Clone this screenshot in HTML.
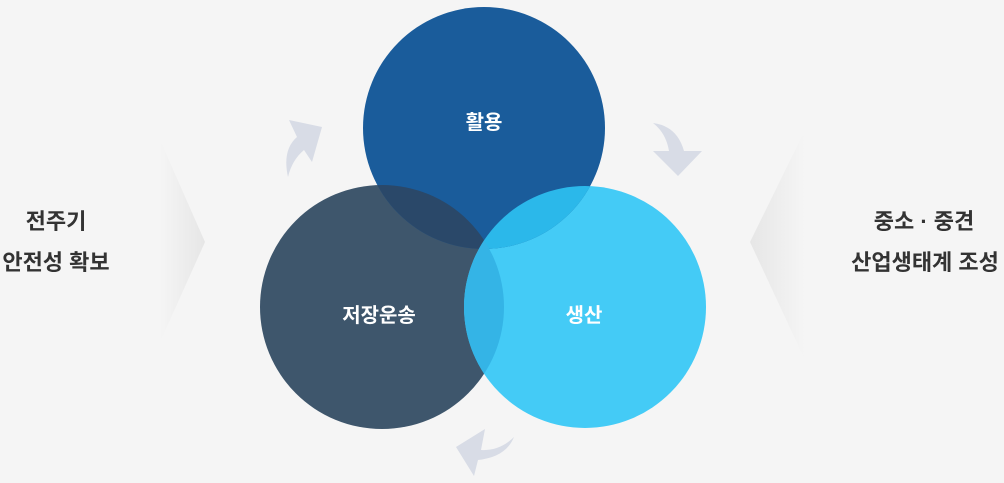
<!DOCTYPE html>
<html><head><meta charset="utf-8"><style>
html,body{margin:0;padding:0;background:#f5f5f5;}
body{width:1004px;height:483px;overflow:hidden;position:relative;font-family:"Liberation Sans","Noto Sans CJK KR",sans-serif;}
svg{position:absolute;left:0;top:0;}
</style></head><body>
<svg width="1004" height="483" viewBox="0 0 1004 483" font-family="Liberation Sans, Noto Sans CJK KR, sans-serif">
<defs>
<linearGradient id="gl" x1="0" x2="1" y1="0" y2="0"><stop offset="0" stop-color="#f5f5f5"/><stop offset="1" stop-color="#e6e6e6"/></linearGradient>
<linearGradient id="gr" x1="1" x2="0" y1="0" y2="0"><stop offset="0" stop-color="#f5f5f5"/><stop offset="1" stop-color="#e6e6e6"/></linearGradient>
<clipPath id="cT"><circle cx="484" cy="128" r="121"/></clipPath>
<clipPath id="cL"><circle cx="382" cy="307" r="122"/></clipPath>
</defs>
<polygon points="160,140 205,242 160,342" fill="url(#gl)"/>
<polygon points="805,130 750,242 805,360" fill="url(#gr)"/>
<circle cx="382" cy="307" r="122" fill="#3e566c"/>
<circle cx="585" cy="307" r="121" fill="#44cbf6"/>
<circle cx="484" cy="128" r="121" fill="#1a5c9b"/>
<g clip-path="url(#cT)"><circle cx="382" cy="307" r="122" fill="#2a4869"/><circle cx="585" cy="307" r="121" fill="#2bb8ea"/></g>
<g clip-path="url(#cL)"><circle cx="585" cy="307" r="121" fill="#34b4e6"/></g>
<path d="M289,120 L322,127 L312,162 L304,150 Q292,160 288,177 Q282,150 297,137 Z" fill="#d8dce6"/>
<path d="M653,123 Q677,126 684,151 L702,151 L678,176 L653,151 L669,151 Q666,133 653,123 Z" fill="#d8dce6"/>
<path d="M485,429 L481,450 Q500,451 514,437 Q506,457 478,460 L474,476 L456,447 Z" fill="#d8dce6"/>
<g font-weight="bold" font-size="20" fill="#fff" text-anchor="middle">
<text x="484" y="129">활용</text>
<text x="379" y="322">저장운송</text>
<text x="584" y="322">생산</text>
</g>
<g font-weight="bold" font-size="22" fill="#333" text-anchor="middle">
<text x="56" y="229">전주기</text>
<text x="56" y="270">안전성 확보</text>
<text x="924" y="229">중소 · 중견</text>
<text x="925" y="270">산업생태계 조성</text>
</g>
</svg>
</body></html>
